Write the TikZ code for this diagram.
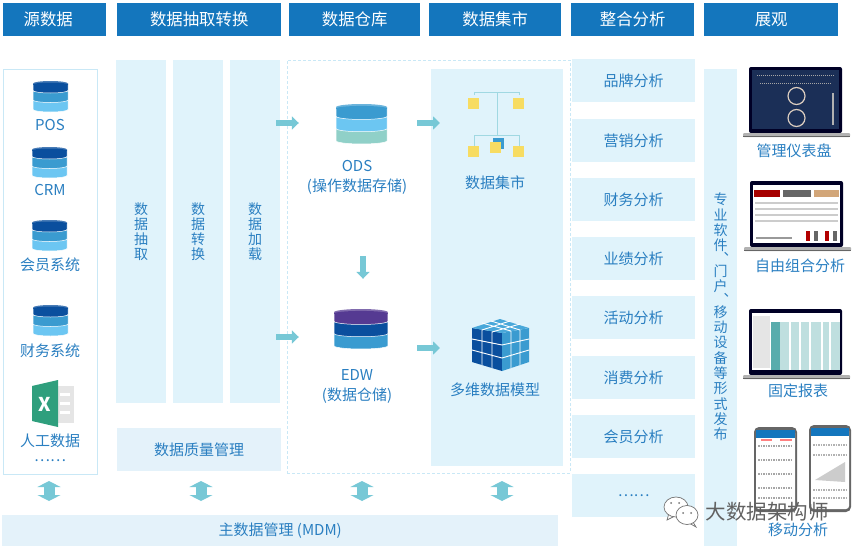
\documentclass[tikz,border=0pt]{standalone}
\usepackage{fontspec}
\setmainfont{Noto Sans CJK SC}
\usetikzlibrary{arrows.meta,positioning,calc}
\definecolor{headblue}{HTML}{1476BD}
\definecolor{panelblue}{HTML}{E0F3FB}
\definecolor{softblue}{HTML}{E4F2FA}
\definecolor{textblue}{HTML}{2A7FC1}
\definecolor{arrowteal}{HTML}{77C8D6}
\definecolor{edgeblue}{HTML}{C9E8F6}
\definecolor{dbnavy}{HTML}{0A4F9E}
\definecolor{dbmid}{HTML}{3A9BD0}
\definecolor{dbsky}{HTML}{6CC6F2}
\definecolor{dbmint}{HTML}{90D0C8}
\definecolor{dbpurple}{HTML}{553A92}
\definecolor{martyellow}{HTML}{F7DC62}
\definecolor{sheetgreen}{HTML}{2F9F7D}
\definecolor{screennavy}{HTML}{1B2F57}
\tikzset{
  headbox/.style={fill=headblue,text=white,anchor=north west,inner sep=0pt,font=\fontsize{16.4}{16}\selectfont},
  panelbox/.style={fill=panelblue,text=textblue,anchor=north west,inner sep=0pt,align=center,font=\fontsize{15}{15.2}\selectfont},
  columnbox/.style={panelbox,font=\fontsize{14}{15.2}\selectfont},
  softbox/.style={panelbox,fill=softblue},
  labeltext/.style={text=textblue,inner sep=0pt,align=center,font=\fontsize{15}{20.5}\selectfont},
  iconspot/.style={inner sep=0pt},
  flowarrow/.style={draw=arrowteal,line width=6pt,-{Triangle[length=7pt,width=13pt]}},
  syncarrow/.style={draw=arrowteal,line width=11pt,{Triangle[length=6pt,width=23pt]}-{Triangle[length=6pt,width=23pt]},shorten <=6pt,shorten >=14pt}
}
% [#1] scope options, #2 left, #3 top of the stack, #4 #5 #6 layers from top
\newcommand{\dbstack}[6][]{
  \begin{scope}[shift={(#2,#3)},#1]
    \fill[#6,draw=white,line width=0.5pt] (0,19) -- (35,19) -- (35,28.5) arc[start angle=0,end angle=180,x radius=17.5,y radius=2.5] -- cycle;
    \fill[#5,draw=white,line width=0.5pt] (0,10) -- (35,10) -- (35,19) arc[start angle=0,end angle=180,x radius=17.5,y radius=2.5] -- cycle;
    \fill[#4,draw=white,line width=0.5pt] (0,2.5) -- (35,2.5) -- (35,9.5) arc[start angle=0,end angle=180,x radius=17.5,y radius=2.5] -- cycle;
    \fill[#4!75!white] (17.5,2.5) ellipse[x radius=17.5,y radius=2.5];
    \fill[#4] (17.5,3.5) ellipse[x radius=17.5,y radius=2];
  \end{scope}
}
% #1 left and #2 top of the screen
\newcommand{\laptopbody}[2]{
  \fill[black!85!blue,rounded corners=2pt] (#1,#2) rectangle ++(93,66);
  \fill[black!30,rounded corners=1pt] (#1-6,#2+66) rectangle ++(107,4);
  \fill[black!60] (#1-6,#2+69) rectangle ++(107,1);
}
\newcommand{\commamark}{\rlap{\kern-4pt\raisebox{-5pt}{、}}}
\begin{document}
\begin{tikzpicture}[x=1pt,y=-1pt]
\useasboundingbox (0,0) rectangle (858,551);
% headers
\node[headbox,minimum width=103,minimum height=33] (h_src) at (3,3) {源数据\hspace*{13pt}};
\node[headbox,minimum width=164,minimum height=33] (h_etl) at (117,3) {数据抽取转换};
\node[headbox,minimum width=131,minimum height=33] (h_dw) at (289,3) {数据仓库};
\node[headbox,minimum width=132,minimum height=33] (h_mart) at (429,3) {数据集市};
\node[headbox,minimum width=123,minimum height=33] (h_ana) at (571,3) {整合分析};
\node[headbox,minimum width=134,minimum height=33] (h_show) at (704,3) {展观};
% panels
\node[draw=edgeblue,fill=white,line width=1pt,anchor=north west,minimum width=94,minimum height=405,inner sep=0pt] (source) at (3,69) {};
\node[columnbox,minimum width=50,minimum height=343] (extract) at (116,60) {数\\据\\抽\\取};
\node[columnbox,minimum width=50,minimum height=343] (convert) at (173,60) {数\\据\\转\\换};
\node[columnbox,minimum width=50,minimum height=343] (load) at (230,60) {数\\据\\加\\载};
\node[softbox,minimum width=164,minimum height=43] (quality) at (117,428) {数据质量管理};
\node[draw=edgeblue,densely dashed,anchor=north west,minimum width=283,minimum height=413,inner sep=0pt] (dwbox) at (287,60) {};
\node[panelbox,minimum width=132,minimum height=397] (mart) at (431,69) {};
\node[softbox,minimum width=556,minimum height=31] (mdm) at (2,515) {主数据管理 (MDM)};
\foreach \name/\y/\txt in {brand/59/品牌分析,market/119/营销分析,finance/178/财务分析,perf/237/业绩分析,
    activity/296/活动分析,spend/356/消费分析,member/415/会员分析,more/474/……}
  \node[panelbox,minimum width=123,minimum height=43] (\name) at (572,\y) {\txt};
\node[panelbox,minimum width=33,minimum height=477] (publish) at (704,69) {};
\node[text=textblue,inner sep=0pt,align=center,font=\fontsize{14}{15.3}\selectfont] (pubtext) at (720.5,317)
  {专\\业\\软\\件\commamark\\[7pt]门\\户\commamark\\[7pt]移\\动\\设\\备\\等\\形\\式\\发\\布};
% source icons
\dbstack{33}{81}{dbnavy}{dbmid}{dbsky}
\dbstack{32}{147}{dbnavy}{dbmid}{dbsky}
\dbstack{32}{220}{dbnavy}{dbmid}{dbsky}
\dbstack{33}{305}{dbnavy}{dbmid}{dbsky}
\node[labeltext] (pos) at (50,125) {POS};
\node[labeltext] (crm) at (50,190) {CRM};
\node[labeltext] (vip) at (50,265) {会员系统};
\node[labeltext] (fin) at (50,351) {财务系统};
\fill[black!10] (58,386) rectangle (74,423);
\foreach \y in {393,402,411} \fill[white] (60,\y) rectangle (70,\y+3);
\fill[sheetgreen] (32,386) -- (58,380) -- (58,427) -- (32,421) -- cycle;
\node[text=white,inner sep=0pt,font=\bfseries\fontsize{19}{19}\selectfont] (xls) at (45,404) {X};
\node[labeltext] (manual) at (50,441) {人工数据};
\node[labeltext] (dots) at (50,461) {……};
% warehouse
\dbstack[xscale=1.46,yscale=1.29]{336}{104}{dbmid}{dbsky}{dbmint}
\node[iconspot,minimum width=58,minimum height=38] (odsicon) at (363,123) {};
\node[labeltext] (ods) at (357,177.5) {ODS\\(操作数据存储)};
\dbstack[xscale=1.54,yscale=1.29]{334}{309}{dbpurple}{dbnavy}{dbmid}
\node[iconspot,minimum width=58,minimum height=38] (edwicon) at (363,337) {};
\node[labeltext] (edw) at (357,386.5) {EDW\\(数据仓储)};
% mart icon
\draw[arrowteal!70,line width=1pt] (474,95) -- (474,92) -- (519,92) -- (519,95) (497,92) -- (497,135)
  (474,146) -- (474,135) -- (519,135) -- (519,146);
\fill[dbmid] (493,138) rectangle (504,149);
\foreach \x/\y in {468/98,513/98,468/146,490/142,513/146}
  \fill[martyellow] (\x,\y) rectangle ++(11,11);
\node[labeltext] (marttext) at (495,183) {数据集市};
% cube
\fill[dbnavy] (472,328) -- (502,333) -- (502,371) -- (472,362) -- cycle;
\fill[dbmid] (502,333) -- (529,328) -- (529,362) -- (502,371) -- cycle;
\fill[dbmid!70!dbsky] (472,328) -- (500,319) -- (529,328) -- (502,333) -- cycle;
\draw[white,line width=0.9pt] (482,330) -- (482,365) (492,332) -- (492,368)
  (511,331) -- (511,368) (520,330) -- (520,365)
  (472,339) -- (502,345) -- (529,339) (472,350) -- (502,358) -- (529,350)
  (482,330) -- (510,321) (492,332) -- (520,324) (511,331) -- (482,323) (520,330) -- (491,321);
\node[iconspot,minimum width=57,minimum height=52] (cubeicon) at (500,345) {};
\node[labeltext] (cubetext) at (495,390) {多维数据模型};
% flows
\draw[flowarrow,shorten <=-4pt,shorten >=35pt] (load.east |- odsicon) -- (odsicon.west);
\draw[flowarrow,shorten <=25pt,shorten >=-9pt] (odsicon.east) -- (mart.west |- odsicon);
\draw[flowarrow,shorten <=-4pt,shorten >=35pt] (load.east |- edwicon) -- (edwicon.west);
\draw[flowarrow,shorten <=25pt,shorten >=-9pt] ($(edwicon.east)+(0,11)$) -- ($(mart.west |- edwicon)+(0,11)$);
\draw[flowarrow,shorten <=114pt,shorten >=39pt] (odsicon.south) -- (edwicon.north);
\foreach \x in {49,201,362,502}
  \draw[syncarrow] (\x,0 |- source.south) -- (\x,0 |- mdm.north);
% dashboard
\laptopbody{749}{67}
\fill[screennavy] (752,70) rectangle (839,129);
\draw[black!25!brown!30!white,line width=1.2pt] (796.5,96) circle[radius=8.5] (796.5,118) circle[radius=8.5];
\draw[black!35,line width=1pt,densely dotted] (757,75) -- (834,75) (760,83) -- (832,83);
\draw[black!30,line width=2pt] (833,93) -- (833,125);
\node[labeltext] (dash) at (794,151) {管理仪表盘};
% free combination
\laptopbody{750}{181}
\fill[white] (753,185) rectangle (840,243);
\fill[red!65!black] (754,190) rectangle (780,197);
\fill[black!60] (783,190) rectangle (811,197);
\fill[brown!70!white] (814,190) rectangle (839,197);
\foreach \y in {203,209,215,221} \draw[black!20,line width=1.5pt] (755,\y) -- (838,\y);
\draw[black!40,line width=1.5pt] (756,238) -- (792,238);
\foreach \x/\c in {806/red!70!black,814/black!60,825/red!70!black,833/black!60}
  \fill[\c] (\x,231) rectangle ++(4,10);
\node[labeltext] (combo) at (800,266) {自由组合分析};
% fixed report
\laptopbody{749}{309}
\fill[white] (752,313) rectangle (840,370);
\fill[black!10] (753,316) rectangle (770,368);
\fill[teal!65!white] (771,322) rectangle (780,370);
\fill[teal!25!white] (780,322) rectangle (840,370);
\foreach \x in {790,800,810,822,830} \draw[white,line width=1.5pt] (\x,322) -- (\x,370);
\node[labeltext] (fixed) at (798,391) {固定报表};
% phones
\foreach \x/\y/\w/\h in {754/427/43/85,809/425/42/87} {
  \fill[black!60,rounded corners=5pt] (\x,\y) rectangle ++(\w,\h);
  \fill[white,rounded corners=3pt] (\x+2,\y+3) rectangle ++(\w-4,\h-6);
  \fill[headblue] (\x+2,\y+3) rectangle ++(\w-4,8);
}
\foreach \y in {446,460,474,488,498} \draw[black!35,line width=1.5pt,densely dotted] (758,\y) -- (793,\y);
\draw[red!50,line width=2pt] (761,440) -- (772,440) (780,440) -- (792,440);
\foreach \y in {445,455,490,498} \draw[black!30,line width=1.5pt,densely dotted] (813,\y) -- (847,\y);
\fill[black!20] (815,480) -- (845,462) -- (845,482) -- cycle;
\node[labeltext] (mobile) at (798,530) {移动分析};
% watermark
\fill[white,draw=black!55,line width=0.7pt] (669,513) -- (667,520) -- (675,516) -- cycle;
\fill[white,draw=black!55,line width=0.7pt] (676,507) ellipse[x radius=12,y radius=10];
\fill[white,draw=black!55,line width=0.7pt] (693,522) -- (696,527) -- (689,523) -- cycle;
\fill[white,draw=black!55,line width=0.7pt] (687,515) ellipse[x radius=11,y radius=9.5];
\fill[black!55] (671,503) circle[radius=1] (679,503) circle[radius=1] (683,513) circle[radius=1] (691,513) circle[radius=1];
\node[text=black!62,inner sep=0pt,font=\fontsize{20.5}{20.5}\selectfont] (mark) at (767,512) {大数据架构师};
\end{tikzpicture}
\end{document}
